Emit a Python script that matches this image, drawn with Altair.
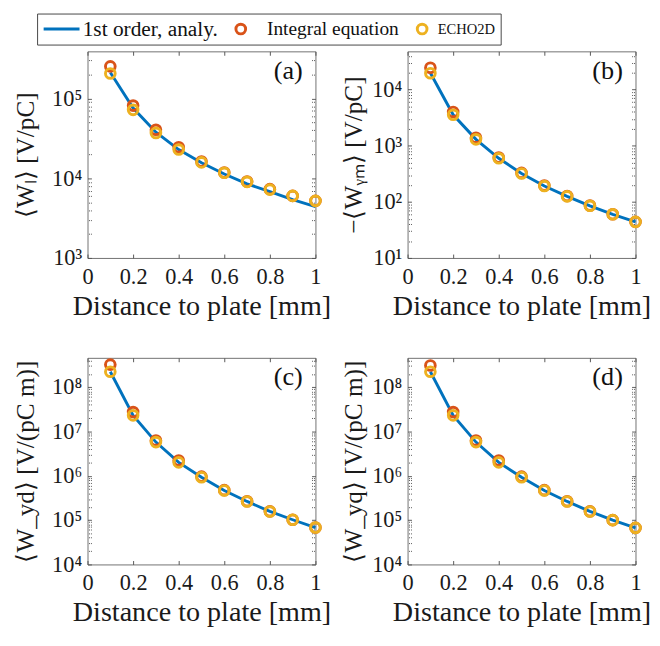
import altair as alt
import pandas as pd

FONT = "Liberation Serif"
SERIES = ["1st order, analy.", "Integral equation", "ECHO2D"]
COLORS = ["#0072BD", "#D95319", "#EDB120"]

dist = [0.1, 0.2, 0.3, 0.4, 0.5, 0.6, 0.7, 0.8, 0.9, 1.0]
x_ticks = [0, 0.2, 0.4, 0.6, 0.8, 1.0]

# (a) <W_l> [V/pC]
a_line = [2.12e5, 7.6e4, 3.78e4, 2.29e4, 1.56e4, 1.13e4, 8.5e3, 6.8e3, 5.4e3, 4.4e3]
a_int = [2.53e5, 8.15e4, 4.05e4, 2.45e4, 1.62e4, 1.18e4, 9.1e3, 7.3e3, 6.0e3, 5.2e3]
a_echo = [2.06e5, 7.2e4, 3.70e4, 2.29e4, 1.58e4, 1.17e4, 9.0e3, 7.2e3, 6.0e3, 5.2e3]
# (b) -<W_ym> [V/pC]
b_line = [1.98e4, 3.56e3, 1.30e3, 597, 320, 191, 125, 85, 60, 44]
b_int = [2.45e4, 4.0e3, 1.39e3, 615, 328, 195, 127, 86, 60, 44]
b_echo = [1.96e4, 3.56e3, 1.30e3, 597, 320, 191, 125, 85, 60, 44]
# (c) <W_yd> [V/(pC m)]
c_line = [2.24e8, 2.32e7, 5.78e6, 2.01e6, 9.3e5, 4.67e5, 2.64e5, 1.57e5, 1.02e5, 6.8e4]
c_int = [3.24e8, 2.75e7, 6.28e6, 2.22e6, 9.6e5, 4.75e5, 2.66e5, 1.58e5, 1.02e5, 6.8e4]
c_echo = [2.24e8, 2.32e7, 5.78e6, 2.01e6, 9.3e5, 4.67e5, 2.64e5, 1.57e5, 1.02e5, 6.8e4]
# (d) <W_yq> [V/(pC m)]
d_line = [2.24e8, 2.32e7, 5.78e6, 2.01e6, 9.3e5, 4.67e5, 2.64e5, 1.57e5, 1.00e5, 6.7e4]
d_int = [3.1e8, 2.75e7, 6.28e6, 2.22e6, 9.6e5, 4.75e5, 2.66e5, 1.58e5, 1.00e5, 6.7e4]
d_echo = [2.24e8, 2.32e7, 5.78e6, 2.01e6, 9.3e5, 4.67e5, 2.64e5, 1.57e5, 1.00e5, 6.7e4]

W, H = 235, 213
TICK = 4
MAJ = "abs(log(datum.value)/LN10 - round(log(datum.value)/LN10)) < 1e-6"
SUP = "['\u2070','\u00b9','\u00b2','\u00b3','\u2074','\u2075','\u2076','\u2077','\u2078','\u2079']"

color_scale = alt.Scale(domain=SERIES, range=COLORS)
shape_scale = alt.Scale(domain=SERIES, range=["M-1,0H3", "circle", "circle"])
size_scale = alt.Scale(type="ordinal", domain=SERIES, range=[342, 100, 100])


def make_legend():
    return alt.Legend(
        title=None, orient="none", legendX=-52, legendY=-39, direction="horizontal",
        strokeColor="#444", fillColor="white", padding=5,
        labelFont=FONT,
        labelFontSize=alt.ExprRef(
            "datum.label == 'ECHO2D' ? 15 : datum.label == 'Integral equation' ? 20 : 22"),
        labelOffset=alt.ExprRef(
            "datum.label == '1st order, analy.' ? 20 : datum.label == 'Integral equation' ? 16 : 5"),
        labelColor="#111", symbolStrokeWidth=3, columnPadding=12,
        labelLimit=300,
    )


def log_ticks(lo, hi):
    return [m * 10.0 ** k for k in range(0, 10) for m in range(1, 10) if lo <= m * 10.0 ** k <= hi]


def panel(letter, line, integ, echo, ytitle, ydomain, tpad):
    rows = []
    for s, vals in zip(SERIES, [line, integ, echo]):
        for xv, yv in zip(dist, vals):
            rows.append({"d": xv, "v": yv, "series": s})
    df = pd.DataFrame(rows)
    yt = log_ticks(*ydomain)
    xs = alt.Scale(domain=[0, 1], nice=False)
    ys = alt.Scale(type="log", domain=ydomain, nice=False)
    tick_dash = {"condition": {"test": MAJ, "value": [1, 0]}, "value": [1, 1]}
    ax_left = alt.Axis(values=yt, labelExpr=f"{MAJ} ? '10' + {SUP}[round(log(datum.value)/LN10)] : ''",
                       title=ytitle, titleFontSize=26, offset=-TICK, tickSize=TICK, domain=False,
                       grid=False, labelPadding=6, titlePadding=tpad, labelOverlap=False,
                       labelFlush=False, tickDash=tick_dash, orient="left")
    ax_right = alt.Axis(values=yt, labels=False, title=None, offset=-TICK, tickSize=TICK,
                        domain=False, grid=False, tickDash=tick_dash, orient="right",
                        minExtent=0, labelPadding=0)
    ax_bottom = alt.Axis(values=x_ticks, format="~g", title="Distance to plate [mm]",
                         titleFontSize=29, offset=-TICK, tickSize=TICK, domain=False, grid=False,
                         labelPadding=8, titlePadding=4, labelOverlap=False, labelFlush=False,
                         orient="bottom")
    ax_top = alt.Axis(values=x_ticks, labels=False, title=None, offset=-TICK, tickSize=TICK,
                      domain=False, grid=False, orient="top", minExtent=0, labelPadding=0)
    base = alt.Chart(df)
    lg = make_legend()
    ln = base.transform_filter(alt.datum.series == SERIES[0]).mark_line(strokeWidth=3).encode(
        x=alt.X("d:Q", scale=xs, axis=ax_bottom),
        y=alt.Y("v:Q", scale=ys, axis=ax_left),
        color=alt.Color("series:N", scale=color_scale, legend=lg),
    )
    pts = base.transform_filter(alt.datum.series != SERIES[0]).mark_point(
        filled=False, strokeWidth=3, opacity=1).encode(
        x=alt.X("d:Q", scale=xs, axis=ax_top),
        y=alt.Y("v:Q", scale=ys, axis=ax_right),
        color=alt.Color("series:N", scale=color_scale, legend=lg),
        shape=alt.Shape("series:N", scale=shape_scale, legend=lg),
        size=alt.Size("series:N", scale=size_scale, legend=lg),
    )
    lab = alt.Chart(pd.DataFrame({"t": [f"({letter})"]})).mark_text(
        font=FONT, fontSize=27, align="right", baseline="middle", color="#111").encode(
        text="t:N", x=alt.value(W - 13), y=alt.value(20))
    return alt.layer(ln, pts, lab).resolve_axis(x="independent", y="independent").properties(
        width=W, height=H)


pa = panel("a", a_line, a_int, a_echo, "\u27e8W\u2097\u27e9 [V/pC]", [1e3, 3.9e5], 14)
pb = panel("b", b_line, b_int, b_echo, "\u2212\u27e8W\u1d67\u2098\u27e9 [V/pC]", [10, 4.8e4], 5)
pc = panel("c", c_line, c_int, c_echo, "\u27e8W_yd\u27e9 [V/(pC m)]", [1e4, 4.6e8], 14)
pd_ = panel("d", d_line, d_int, d_echo, "\u27e8W_yq\u27e9 [V/(pC m)]", [1e4, 4.6e8], 5)

res = dict(x="independent", y="independent", color="shared", shape="shared", size="shared")
row1 = alt.hconcat(pa, pb, spacing=9).resolve_scale(**res)
row2 = alt.hconcat(pc, pd_, spacing=9).resolve_scale(**res)
chart = alt.vconcat(row1, row2, spacing=29).resolve_scale(**res).properties(
    padding={"left": 4, "top": -5, "right": 0, "bottom": -3}, background="white"
).configure_view(stroke="#6f6f6f", strokeWidth=1).configure_axis(
    labelFont=FONT, labelFontSize=23, labelColor="#1a1a1a",
    titleFont=FONT, titleFontSize=28, titleColor="#1a1a1a", titleFontWeight="normal",
    tickColor="#555555", tickWidth=1,
)

chart.save("out.html", embed_options={"renderer": "svg", "actions": False})
